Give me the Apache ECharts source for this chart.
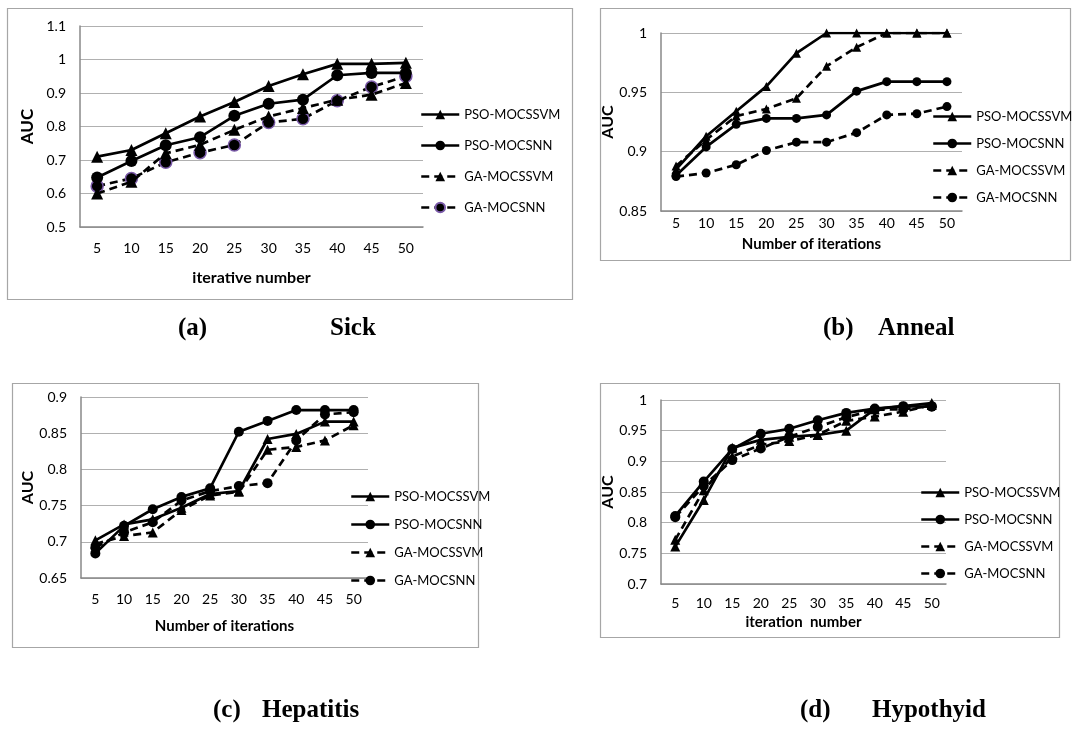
<!DOCTYPE html>
<html>
<head>
<meta charset="utf-8">
<script src="https://cdn.jsdelivr.net/npm/echarts@6/dist/echarts.min.js"></script>
<style>
  html, body { margin: 0; background: #fff; }
  #chart { width: 1073px; height: 734px; }
</style>
</head>
<body>
<div id="chart"></div>
<script>
// x categories shared by all four panels
var iterations = ['5', '10', '15', '20', '25', '30', '35', '40', '45', '50'];
var seriesNames = ['PSO-MOCSSVM', 'PSO-MOCSNN', 'GA-MOCSSVM', 'GA-MOCSNN'];

// (a) Sick
var sickPsoSvm = [0.71, 0.73, 0.78, 0.83, 0.873, 0.921, 0.956, 0.987, 0.987, 0.99];
var sickPsoNn  = [0.648, 0.697, 0.744, 0.768, 0.832, 0.868, 0.88, 0.953, 0.96, 0.96];
var sickGaSvm  = [0.60, 0.635, 0.72, 0.745, 0.79, 0.83, 0.855, 0.88, 0.895, 0.93];
var sickGaNn   = [0.622, 0.645, 0.693, 0.722, 0.745, 0.812, 0.823, 0.877, 0.918, 0.95];

// (b) Anneal
var annealPsoSvm = [0.885, 0.913, 0.934, 0.955, 0.983, 1.0, 1.0, 1.0, 1.0, 1.0];
var annealPsoNn  = [0.88, 0.904, 0.923, 0.928, 0.928, 0.931, 0.951, 0.959, 0.959, 0.959];
var annealGaSvm  = [0.888, 0.91, 0.93, 0.936, 0.945, 0.972, 0.988, 1.0, 1.0, 1.0];
var annealGaNn   = [0.879, 0.882, 0.889, 0.901, 0.908, 0.908, 0.916, 0.931, 0.932, 0.938];

// (c) Hepatitis
var hepPsoSvm = [0.702, 0.724, 0.731, 0.747, 0.766, 0.77, 0.842, 0.849, 0.866, 0.866];
var hepPsoNn  = [0.684, 0.722, 0.745, 0.762, 0.774, 0.852, 0.867, 0.882, 0.882, 0.882];
var hepGaSvm  = [0.697, 0.708, 0.713, 0.744, 0.764, 0.769, 0.827, 0.831, 0.84, 0.861];
var hepGaNn   = [0.692, 0.713, 0.727, 0.757, 0.77, 0.777, 0.781, 0.84, 0.876, 0.879];

// (d) Hypothyid
var hypoPsoSvm = [0.761, 0.837, 0.922, 0.935, 0.94, 0.943, 0.95, 0.985, 0.99, 0.995];
var hypoPsoNn  = [0.811, 0.867, 0.92, 0.945, 0.953, 0.967, 0.979, 0.986, 0.99, 0.989];
var hypoGaSvm  = [0.772, 0.853, 0.908, 0.927, 0.933, 0.943, 0.966, 0.973, 0.981, 0.992];
var hypoGaNn   = [0.809, 0.86, 0.902, 0.921, 0.94, 0.956, 0.972, 0.984, 0.985, 0.99];

// y ranges: min, max, step
var sickRange = [0.5, 1.1, 0.1];
var annealRange = [0.85, 1.0, 0.05];
var hepRange = [0.65, 0.9, 0.05];
var hypoRange = [0.7, 1.0, 0.05];

var myChart = echarts.init(document.getElementById('chart'));

var FONT = 'Lato';
var GRID_GRAY = '#b0b0b0';
var AXIS_GRAY = '#888888';

var panels = [
  { key: 'a', data: [sickPsoSvm, sickPsoNn, sickGaSvm, sickGaNn], range: sickRange,
    grid: { left: 80, top: 26, width: 343, height: 201 },
    xName: 'iterative number', xGap: 43, xMargin: 14, yGap: 44, sym: 12, nameSize: 16,
    legend: { left: 415, top: 103, itemGap: 18 }, purple: true },
  { key: 'b', data: [annealPsoSvm, annealPsoNn, annealGaSvm, annealGaNn], range: annealRange,
    grid: { left: 661, top: 33, width: 301, height: 178 },
    xName: 'Number of iterations', xGap: 26, xMargin: 5, yGap: 40, sym: 9, nameSize: 15,
    legend: { left: 927, top: 105, itemGap: 14 } },
  { key: 'c', data: [hepPsoSvm, hepPsoNn, hepGaSvm, hepGaNn], range: hepRange,
    grid: { left: 81, top: 397, width: 287, height: 181 },
    xName: 'Number of iterations', xGap: 41, xMargin: 14, yGap: 44, sym: 10, nameSize: 15,
    legend: { left: 345, top: 485, itemGap: 15 } },
  { key: 'd', data: [hypoPsoSvm, hypoPsoNn, hypoGaSvm, hypoGaNn], range: hypoRange,
    grid: { left: 661, top: 400, width: 285, height: 184 },
    xName: 'iteration  number', xGap: 31, xMargin: 12, yGap: 40, sym: 10, nameSize: 15,
    legend: { left: 915, top: 481, itemGap: 14 } }
];

var grids = [], xAxes = [], yAxes = [], legends = [], series = [];

panels.forEach(function (p, i) {
  grids.push(p.grid);
  xAxes.push({
    type: 'category', gridIndex: i, data: iterations,
    name: p.xName, nameLocation: 'middle', nameGap: p.xGap,
    nameTextStyle: { fontFamily: FONT, fontWeight: 'bold', fontSize: p.nameSize, color: '#000' },
    axisTick: { show: false },
    axisLine: { lineStyle: { color: AXIS_GRAY, width: 1.5 } },
    axisLabel: { fontFamily: FONT, fontSize: 14, color: '#000', margin: p.xMargin }
  });
  yAxes.push({
    type: 'value', gridIndex: i, min: p.range[0], max: p.range[1], interval: p.range[2],
    name: 'AUC', nameLocation: 'middle', nameRotate: 90, nameGap: p.yGap,
    nameTextStyle: { fontFamily: FONT, fontWeight: 'bold', fontSize: p.nameSize + 1, color: '#000' },
    axisLine: { show: true, lineStyle: { color: AXIS_GRAY, width: 1.5 } },
    splitLine: { lineStyle: { color: GRID_GRAY, width: 1.2 } },
    axisLabel: {
      fontFamily: FONT, fontSize: 14, color: '#000', margin: 14,
      formatter: function (v) { return String(Math.round(v * 100) / 100); }
    }
  });
  var names = [];
  seriesNames.forEach(function (n, k) {
    var id = n + '|' + p.key;
    names.push(id);
    var dashed = k >= 2;
    var purple = p.purple && k === 3;
    series.push({
      name: id, type: 'line', xAxisIndex: i, yAxisIndex: i,
      data: p.data[k],
      symbol: k % 2 === 0 ? 'triangle' : 'circle',
      symbolSize: p.sym,
      showSymbol: true,
      animation: false,
      lineStyle: { color: '#000', width: 2.7, type: dashed ? [8, 5] : 'solid' },
      itemStyle: { color: '#000', borderColor: purple ? '#7a5aa8' : '#000', borderWidth: purple ? 1.5 : 0 },
      z: 10 - k
    });
  });
  legends.push({
    data: names, orient: 'vertical', left: p.legend.left, top: p.legend.top,
    itemGap: p.legend.itemGap, itemWidth: 38, itemHeight: 12,
    textStyle: { fontFamily: FONT, fontSize: 13, color: '#000' },
    lineStyle: { width: 2.5 },
    formatter: function (n) { return n.split('|')[0]; },
    selectedMode: false
  });
});

var captionStyle = { fontFamily: 'Liberation Serif', fontWeight: 'bold', fontSize: 25, color: '#000' };
function caption(text, x, y) {
  return { type: 'text', left: x, top: y, style: Object.assign({ text: text }, captionStyle) };
}
function box(x, y, w, h) {
  return { type: 'rect', shape: { x: x, y: y, width: w, height: h }, silent: true,
    style: { fill: 'none', stroke: '#a6a6a6', lineWidth: 1.2 } };
}

var option = {
  backgroundColor: '#fff',
  grid: grids,
  xAxis: xAxes,
  yAxis: yAxes,
  legend: legends,
  series: series,
  graphic: [
    box(7.5, 8.5, 565, 291),
    box(600.5, 8.5, 470, 252),
    box(12.5, 383.5, 466, 264),
    box(600.5, 383.5, 459, 254),
    caption('(a)', 178, 316),
    caption('Sick', 330, 316),
    caption('(b)', 823, 316),
    caption('Anneal', 878, 316),
    caption('(c)', 213, 698),
    caption('Hepatitis', 262, 698),
    caption('(d)', 800, 698),
    caption('Hypothyid', 872, 698)
  ]
};

myChart.setOption(option);
</script>
</body>
</html>
